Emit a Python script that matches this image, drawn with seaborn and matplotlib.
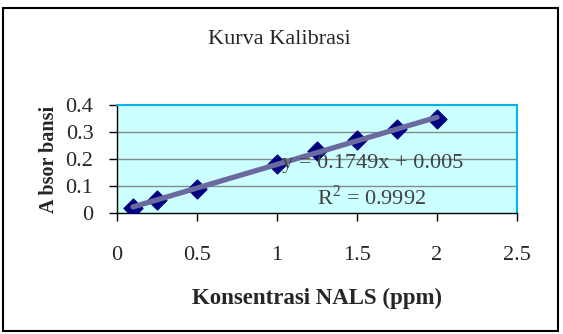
import pandas as pd
import matplotlib.pyplot as plt
import seaborn as sns
from matplotlib.patches import Rectangle

konsentrasi = [0.1, 0.25, 0.5, 1.0, 1.25, 1.5, 1.75, 2.0]
absorbansi = [0.02, 0.05, 0.09, 0.18, 0.23, 0.27, 0.31, 0.35]
x_ticks = [0, 0.5, 1, 1.5, 2, 2.5]
y_ticks = [0, 0.1, 0.2, 0.3, 0.4]

df = pd.DataFrame({"konsentrasi": konsentrasi, "absorbansi": absorbansi})

sns.set_style("white")
plt.rcParams["font.family"] = ["Liberation Serif", "DejaVu Serif"]
plt.rcParams["mathtext.fontset"] = "custom"
plt.rcParams["mathtext.rm"] = "Liberation Serif"

fig = plt.figure(figsize=(5.63, 3.34), dpi=100)
ax = fig.add_axes([117 / 563, 1 - 213 / 334, 400 / 563, 108 / 334])
ax.set_facecolor("#ccffff")

sns.scatterplot(data=df, x="konsentrasi", y="absorbansi", ax=ax, marker="D",
                s=95, color="#000080", edgecolor="#000080", zorder=3)
sns.regplot(data=df, x="konsentrasi", y="absorbansi", ax=ax, scatter=False, ci=None,
            truncate=True, line_kws={"color": "#6a6aa0", "lw": 3.8, "zorder": 4})

ax.set_xlim(0, 2.5)
ax.set_ylim(0, 0.4)
ax.set_xticks(x_ticks)
ax.set_yticks(y_ticks)
ax.set_xticklabels(["0", "0.5", "1", "1.5", "2", "2.5"])
ax.set_yticklabels(["0", "0.1", "0.2", "0.3", "0.4"])
ax.tick_params(axis="both", labelsize=16, length=6, width=1, color="black",
               direction="out", left=True, bottom=True)
ax.tick_params(axis="x", pad=18)
ax.tick_params(axis="y", pad=11)
for yv in y_ticks[1:-1]:
    ax.axhline(yv, color="#7f8c8c", lw=1, zorder=1)

for side in ["top", "right"]:
    ax.spines[side].set_visible(True)
    ax.spines[side].set_color("#00b4e6")
    ax.spines[side].set_linewidth(1.5)
ax.spines["left"].set_color("black")
ax.spines["bottom"].set_color("black")
ax.spines["left"].set_linewidth(1)
ax.spines["bottom"].set_linewidth(1)

ax.set_xlabel("Konsentrasi NALS (ppm)", fontsize=16.5, fontweight="bold", labelpad=16)
ax.set_ylabel("A bsor bansi", fontsize=14.5, fontweight="bold", labelpad=5)

ax.text(1.03, 0.185, "y = 0.1749x + 0.005", fontsize=16, color="#404040",
        ha="left", va="center", zorder=5)
ax.text(1.25, 0.059, "R$^2$ = 0.9992", fontsize=16, color="#404040",
        ha="left", va="center", zorder=5)

fig.text(279 / 563, 1 - 40 / 334, "Kurva Kalibrasi", fontsize=16,
         ha="center", va="center")

fig.patches.append(Rectangle((3 / 563, 3 / 334), 555 / 563, 323 / 334,
                             transform=fig.transFigure, fill=False,
                             edgecolor="black", lw=1.5))

fig.savefig("out.png", dpi=100)
